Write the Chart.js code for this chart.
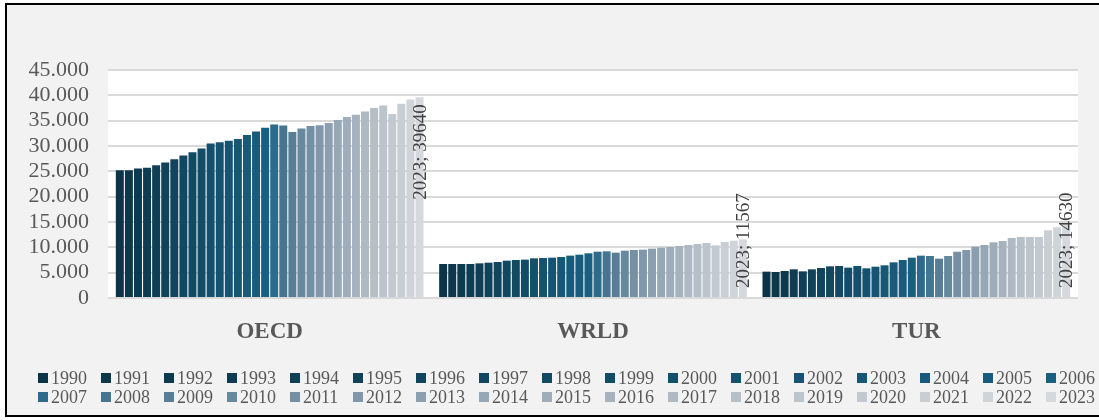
<!DOCTYPE html>
<html>
<head>
<meta charset="utf-8">
<script src="https://cdn.jsdelivr.net/npm/chart.js@4/dist/chart.umd.min.js"></script>
<style>
    body { margin: 0; background: #ffffff; width: 1099px; height: 420px; overflow: hidden; position: relative; font-family: "Liberation Serif", "Times New Roman", serif; }
    #frame { position: absolute; left: 5px; top: 3px; width: 1200px; height: 410px; border: 2px solid #000; background: #f2f2f2; }
    #chartBox { position: absolute; left: 0; top: 0; width: 1099px; height: 420px; }
    .legend-item { position: absolute; height: 20px; display: flex; align-items: center; font-size: 18px; color: #595959; white-space: nowrap; }
    .legend-item span.box { display: inline-block; width: 10px; height: 10px; margin-right: 3px; }
</style>
</head>
<body>
<div id="frame"></div>
<div id="chartBox"><canvas id="gdpChart" width="1099" height="420"></canvas></div>
<div id="legend"></div>
<script>
// Categories and years
const categories = ['OECD', 'WRLD', 'TUR'];
const years = [1990, 1991, 1992, 1993, 1994, 1995, 1996, 1997, 1998, 1999,
               2000, 2001, 2002, 2003, 2004, 2005, 2006, 2007, 2008, 2009,
               2010, 2011, 2012, 2013, 2014, 2015, 2016, 2017, 2018, 2019,
               2020, 2021, 2022, 2023];

// Values per region, one entry per year
const oecdValues = [25230, 25230, 25560, 25690, 26220, 26750, 27400, 28130, 28790, 29510,
                    30500, 30760, 31030, 31360, 32150, 32870, 33600, 34250, 34060, 32740,
                    33460, 33930, 34120, 34520, 35110, 35700, 36170, 36820, 37480, 38010,
                    36300, 38340, 39200, 39640];
const wrldValues = [6710, 6710, 6710, 6710, 6840, 6970, 7110, 7370, 7500, 7570,
                    7830, 7890, 7960, 8090, 8360, 8550, 8820, 9140, 9210, 8950,
                    9340, 9470, 9540, 9740, 9930, 10070, 10260, 10460, 10660, 10860,
                    10390, 11050, 11320, 11567];
const turValues = [5200, 5130, 5330, 5660, 5260, 5660, 5920, 6250, 6320, 5990,
                   6320, 5860, 6180, 6450, 7040, 7500, 7960, 8360, 8290, 7760,
                   8290, 9140, 9470, 10130, 10460, 10990, 11250, 11840, 12040, 12040,
                   12040, 13360, 13950, 14630];

// Y axis ticks
const yTicks = [0, 5000, 10000, 15000, 20000, 25000, 30000, 35000, 40000, 45000];

// Colour per year, dark navy to light grey
const yearColors = ['#0c3448', '#0d374b', '#0e3a4f', '#0e3c52', '#0f3f56', '#10425a', '#11445d', '#124761',
                    '#124a64', '#134c67', '#144f6b', '#15526f', '#155472', '#165776', '#175a79', '#175c7c',
                    '#185f80', '#2e6a89', '#46758f', '#567f97', '#66899e', '#7590a4', '#8298aa', '#8c9fb0',
                    '#96a7b5', '#9eadb9', '#a6b3be', '#aeb9c3', '#b5bfc8', '#bcc4cc', '#c2c9d0', '#c8ced4',
                    '#cfd4d9', '#d5d9dd'];

const serif = '"Liberation Serif", "Times New Roman", serif';

// White plot area
const plotBackground = {
    id: 'plotBackground',
    beforeDraw(chart) {
        const { ctx, chartArea } = chart;
        ctx.save();
        ctx.fillStyle = '#ffffff';
        ctx.fillRect(chartArea.left, chartArea.top - 1, chartArea.right - chartArea.left, chartArea.bottom - chartArea.top + 1);
        ctx.restore();
    }
};

// Rotated value labels, only for the last year
const lastYearLabels = {
    id: 'lastYearLabels',
    afterDatasetsDraw(chart) {
        const idx = years.length - 1;
        const meta = chart.getDatasetMeta(idx);
        const ctx = chart.ctx;
        const base = chart.scales.y.getPixelForValue(0);
        ctx.save();
        ctx.font = '19px ' + serif;
        ctx.fillStyle = '#404040';
        ctx.textBaseline = 'middle';
        ctx.textAlign = 'left';
        meta.data.forEach((bar, i) => {
            const text = years[idx] + '; ' + chart.data.datasets[idx].data[i];
            const w = ctx.measureText(text).width;
            let top = bar.y + 7;
            if (top + w > base - 10) top = base - 10 - w;
            ctx.save();
            ctx.translate(bar.x + 1, top + w);
            ctx.rotate(-Math.PI / 2);
            ctx.fillText(text, 0, 0);
            ctx.restore();
        });
        ctx.restore();
    }
};

const datasets = years.map((yr, i) => ({
    label: String(yr),
    data: [oecdValues[i], wrldValues[i], turValues[i]],
    backgroundColor: yearColors[i],
    borderWidth: 0,
    barPercentage: 0.88,
    categoryPercentage: 0.955
}));

new Chart(document.getElementById('gdpChart').getContext('2d'), {
    type: 'bar',
    data: { labels: categories, datasets: datasets },
    options: {
        responsive: false,
        animation: false,
        layout: { padding: { left: 0, right: 21, top: 70, bottom: 62 } },
        plugins: {
            legend: { display: false },
            tooltip: { enabled: false }
        },
        scales: {
            x: {
                grid: { display: false },
                border: { display: false },
                ticks: { color: '#595959', font: { family: serif, size: 23, weight: 'bold' }, padding: 12 },
                afterFit(scale) { scale.height = 60; }
            },
            y: {
                min: 0,
                max: 45000,
                afterBuildTicks(scale) { scale.ticks = yTicks.map(v => ({ value: v })); },
                grid: { color: '#d9d9d9', lineWidth: 2, drawTicks: false },
                border: { display: false },
                ticks: {
                    autoSkip: false,
                    color: '#595959',
                    font: { family: serif, size: 22 },
                    padding: 19,
                    callback: v => v === 0 ? '0' : v.toLocaleString('de-DE')
                },
                afterFit(scale) { scale.width = 108; }
            }
        }
    },
    plugins: [plotBackground, lastYearLabels]
});

// Legend in two rows of 17
const legendEl = document.getElementById('legend');
years.forEach((yr, i) => {
    const row = Math.floor(i / 17);
    const col = i % 17;
    const item = document.createElement('div');
    item.className = 'legend-item';
    item.style.left = (38 + col * 63) + 'px';
    item.style.top = (row === 0 ? 368 : 387) + 'px';
    item.innerHTML = `<span class="box" style="background:${yearColors[i]}"></span>${yr}`;
    legendEl.appendChild(item);
});
</script>
</body>
</html>
